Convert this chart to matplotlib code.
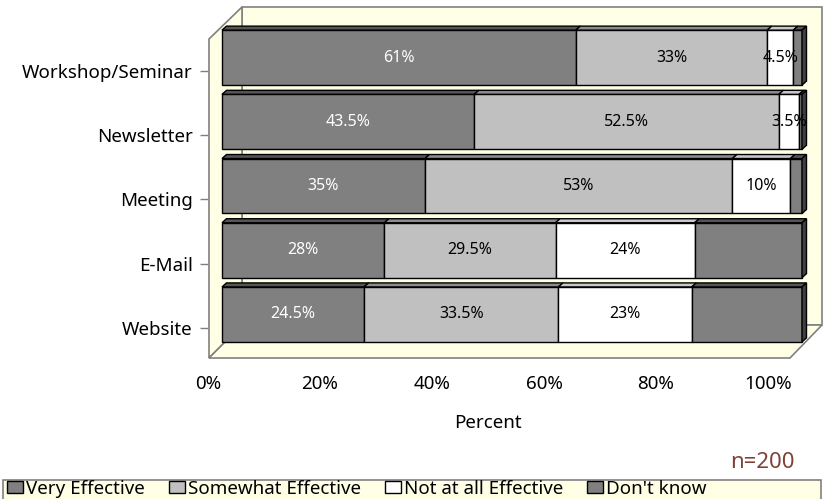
import matplotlib
matplotlib.use("Agg")
import matplotlib.pyplot as plt
from matplotlib.patches import Polygon, Rectangle, Patch

plt.rcParams['font.family'] = ['Noto Sans', 'DejaVu Sans']
plt.rcParams['font.stretch'] = 'condensed'

# survey results, bottom row first
channels = ['Website', 'E-Mail', 'Meeting', 'Newsletter', 'Workshop/Seminar']
very_effective = [24.5, 28, 35, 43.5, 61]
somewhat_effective = [33.5, 29.5, 53, 52.5, 33]
not_effective = [23, 24, 10, 3.5, 4.5]
dont_know = [19, 18.5, 2, 0.5, 1.5]
series_names = ['Very Effective', 'Somewhat Effective', 'Not at all Effective', "Don't know"]
pct_ticks = [0, 20, 40, 60, 80, 100]
sample_note = 'n=200'

series = [very_effective, somewhat_effective, not_effective, dont_know]
front_cols = ['#808080', '#C0C0C0', '#FFFFFF', '#808080']
top_cols = ['#555555', '#8C8C8C', '#C8C8C8', '#555555']
side_col = '#404040'
text_cols = ['white', 'black', 'black', None]   # None -> no value label
wall = '#FFFFE6'
wall_edge = '#808080'

W, H = 834, 499
fig = plt.figure(figsize=(W / 100, H / 100), dpi=100)

# pixel-space background for the 3d box and legend frame
bg = fig.add_axes([0, 0, 1, 1])
bg.set_xlim(0, W)
bg.set_ylim(H, 0)
bg.axis('off')
bg.add_patch(Polygon([(242, 7), (822, 7), (822, 325), (242, 325)], fc=wall, ec=wall_edge, lw=1.2))
bg.add_patch(Polygon([(209, 39), (242, 7), (242, 325), (209, 358)], fc=wall, ec=wall_edge, lw=1.2))
bg.add_patch(Polygon([(209, 358), (790, 358), (822, 325), (242, 325)], fc=wall, ec=wall_edge, lw=1.2))
bg.add_patch(Rectangle((3, 480), 818, 60, fc=wall, ec=wall_edge, lw=1.2, clip_on=False))

# value / category axis along the front of the box
ax = fig.add_axes([208 / W, (H - 360) / H, 560 / W, 321 / H])
ax.set_xlim(0, 100)
ax.set_ylim(-0.5, 4.5)
ax.patch.set_visible(False)
for s in ax.spines.values():
    s.set_visible(False)
ax.set_yticks(range(len(channels)))
ax.set_yticklabels(channels, fontsize=13.5)
ax.tick_params(axis='y', direction='out', length=6, width=1, color='#808080', pad=5)
ax.set_xticks(pct_ticks)
ax.set_xticklabels([f'{t}%' for t in pct_ticks], fontsize=13.5)
ax.tick_params(axis='x', length=0, pad=11)
ax.set_xlabel('Percent', fontsize=13.5, labelpad=15)

# bars sit part way back in the box
axb = fig.add_axes([222 / W, (H - 346.5) / H, 580 / W, 321 / H])
axb.set_xlim(0, 100)
axb.set_ylim(-0.5, 4.5)
axb.axis('off')

bar_h = 0.856
ddx = 4.5 / 5.8
ddy = 4 / 64.2

left = [0.0] * len(channels)
for k, vals in enumerate(series):
    for i, v in enumerate(vals):
        l = left[i]
        r = l + v
        yb, yt = i - bar_h / 2, i + bar_h / 2
        axb.barh(i, v, left=l, height=bar_h, color=front_cols[k], edgecolor='black',
                 linewidth=1, clip_on=False, zorder=2)
        axb.add_patch(Polygon([(l, yt), (r, yt), (r + ddx, yt + ddy), (l + ddx, yt + ddy)],
                              fc=top_cols[k], ec='black', lw=1, clip_on=False, zorder=2))
        if k == len(series) - 1:
            axb.add_patch(Polygon([(r, yb), (r, yt), (r + ddx, yt + ddy), (r + ddx, yb + ddy)],
                                  fc=side_col, ec='black', lw=1, clip_on=False, zorder=2))
        if text_cols[k] is not None:
            axb.text(l + v / 2, i, f'{v:g}%', ha='center', va='center',
                     fontsize=11.5, color=text_cols[k], zorder=3, clip_on=False)
        left[i] = r

handles = [Patch(facecolor=c, edgecolor='black', linewidth=1) for c in front_cols]
fig.legend(handles, series_names, loc='center left', bbox_to_anchor=(7 / W, (H - 488.5) / H),
           ncol=4, frameon=False, fontsize=13.5, handlelength=0.85, handleheight=0.6,
           handletextpad=0.15, columnspacing=1.3, borderpad=0, borderaxespad=0)

fig.text(762 / W, (H - 463) / H, sample_note, ha='center', va='center', fontsize=16, color='#7E4236')

fig.savefig('out.png', dpi=100)
